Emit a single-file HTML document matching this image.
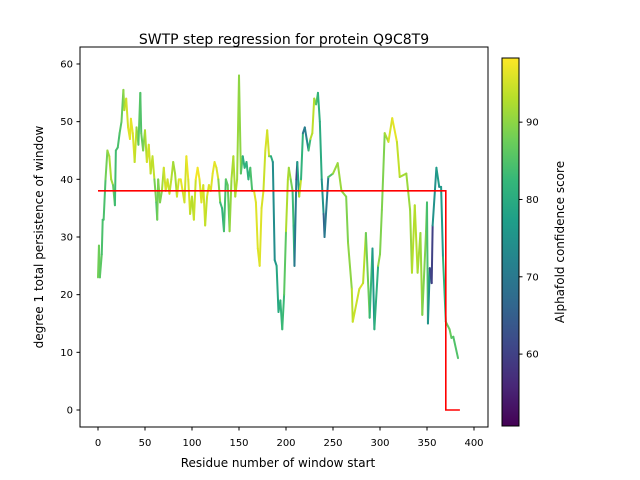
<!DOCTYPE html>
<html><head><meta charset="utf-8"><style>
body{margin:0;background:#fff}
svg{display:block;font-family:"DejaVu Sans","Liberation Sans",sans-serif}
</style></head><body>
<svg id="chart" width="640" height="480" viewBox="0 0 640 480" xmlns="http://www.w3.org/2000/svg">
<defs>
<linearGradient id="vir" x1="0" y1="1" x2="0" y2="0">
<stop offset="0" stop-color="#440154"/><stop offset="0.111" stop-color="#482878"/><stop offset="0.222" stop-color="#3e4989"/><stop offset="0.333" stop-color="#31688e"/><stop offset="0.444" stop-color="#26828e"/><stop offset="0.556" stop-color="#1f9e89"/><stop offset="0.667" stop-color="#35b779"/><stop offset="0.778" stop-color="#6ece58"/><stop offset="0.889" stop-color="#b5de2b"/><stop offset="1" stop-color="#fde725"/>
</linearGradient>
</defs>
<rect x="0" y="0" width="640" height="480" fill="#fff"/>
<text x="284" y="44" font-size="14" text-anchor="middle">SWTP step regression for protein Q9C8T9</text>
<g id="marks"></g>
<rect x="80" y="47" width="408" height="380" fill="none" stroke="#000" stroke-width="1"/>
<g id="axes"></g>
<text x="278" y="467" font-size="12" text-anchor="middle">Residue number of window start</text>
<text transform="translate(43,237) rotate(-90)" font-size="12" text-anchor="middle">degree 1 total persistence of window</text>
<rect x="502" y="58" width="17" height="368" fill="url(#vir)" stroke="#000" stroke-width="1"/>
<g id="cbar"></g>
<text transform="translate(564,242) rotate(-90)" font-size="12" text-anchor="middle">Alphafold confidence score</text>
</svg>
<script>
const residues=[0,1,2,4,5,6,8,10,12,14,16,18,19,21,23,25,27,28,30,32,34,35,37,39,41,43,45,46,48,50,52,54,56,58,60,62,63,64,66,68,70,72,74,76,78,80,82,84,86,88,90,92,94,96,98,100,102,104,106,108,110,112,114,116,118,120,122,124,126,128,130,132,134,136,138,140,142,144,146,148,150,152,154,156,158,160,162,164,166,168,170,172,174,176,178,180,182,184,186,188,190,192,194,196,198,200,202,203,205,207,208,209,211,212,214,216,218,220,222,224,226,228,230,232,234,236,238,
240,241,245,250,255,259,264,266,270,271,278,282,285,289,292,294,298,300,302,305,309,313,318,321,328,332,334,337,340,343,345,349,350,351,353,355,356,360,363,365,367,370,374,376,378,383];
const values=[23,28.5,23,27,33,33,40,45,44,40,39,35.5,45,45.5,48,50,55.5,52,54,49,47,50.5,48,43,49,46,55,48,45,48.5,43,46,41,44,40,36,33,40,36,38,42,38,40,37.5,40,43,41,37,40,40,38,36,44,40,34,37,33,40,42,40,36,39,32,37,39,38,41,43,42,40,36,35,31,40,39,31,40,44,37,40,58,41,44,42,43,40,42,38,38,36,28,25,35,38,45,48.5,44,44,43,26,25,17,19,14,20,31,40,42,40,38,32,25,40,43,37,40,48,49,47,45,47,48,54,53,55,50,40,
34,30,40.4,41,42.8,38,37,29,21,15.3,21,22,30.7,16,28,14,25,27,34.7,48,46.5,50.6,46.5,40.4,41,34.7,23.8,35.5,23.8,30.7,16.5,31,36,15,24.6,22,32,42,38.7,38.7,26.5,15.3,14,12.5,12.7,9];
const scores=[88,88,87,85,84,83,86,90,92,93,90,83,84,84,85,86,88,92,94,96,96,97,96,95,93,88,84,86,88,90,95,96,94,93,95,82,86,90,88,90,94,96,95,94,93,92,91,93,97,97,96,94,96,98,93,94,92,97,98,97,95,97,93,95,96,96,96,97,96,95,84,82,80,88,84,90,91,93,92,93,89,91,80,81,82,80,84,85,96,96,96,96,96,95,94,97,93,86,74,74,78,80,80,84,82,90,95,90,92,84,82,80,60,60,95,93,70,70,72,74,92,94,93,90,80,82,78,
72,60,80,90,92,90,90,88,92,94,95,96,90,85,80,72,90,90,88,90,94,97,96,92,92,90,92,94,92,92,90,88,88,80,70,52,68,82,72,75,78,85,88,86,86,84];
const stepX=[0,370,370,385];
const stepY=[38,38,0,0];
const xTicks=[0,50,100,150,200,250,300,350,400];
const yTicks=[0,10,20,30,40,50,60];
const cTicks=[60,70,80,90];
const NS='http://www.w3.org/2000/svg';
const CMIN=50.7,CMAX=98.3;
const xs=v=>98+v*0.94;
const ys=v=>410-v*5.767;
const cy=v=>426-(v-CMIN)*(368/(CMAX-CMIN));
const vir=['#440154','#482878','#3e4989','#31688e','#26828e','#1f9e89','#35b779','#6ece58','#b5de2b','#fde725'];
function hex(h){return [1,3,5].map(i=>parseInt(h.substr(i,2),16));}
function color(s){let t=Math.max(0,Math.min(1,(s-CMIN)/(CMAX-CMIN)))*(vir.length-1);let i=Math.min(vir.length-2,Math.floor(t));let f=t-i;let a=hex(vir[i]),b=hex(vir[i+1]);return 'rgb('+a.map((c,k)=>Math.round(c+(b[k]-c)*f)).join(',')+')';}
const marks=document.getElementById('marks');
const n=Math.min(residues.length,values.length,scores.length);
for(let i=0;i<n-1;i++){
 const l=document.createElementNS(NS,'line');
 
 
 l.setAttribute('x1',xs(residues[i]));l.setAttribute('y1',ys(values[i]));
 l.setAttribute('x2',xs(residues[i+1]));l.setAttribute('y2',ys(values[i+1]));
 l.setAttribute('stroke',color((scores[i]+scores[i+1])/2));
 l.setAttribute('stroke-width','2');l.setAttribute('stroke-linecap','round');
 marks.appendChild(l);
}
const step=document.createElementNS(NS,'polyline');


step.setAttribute('points',stepX.map((x,i)=>xs(x)+','+ys(stepY[i])).join(' '));
step.setAttribute('fill','none');step.setAttribute('stroke','#ff0000');step.setAttribute('stroke-width','1.6');
marks.appendChild(step);
const axes=document.getElementById('axes');
function mk(tag,attrs,txt){const e=document.createElementNS(NS,tag);for(const k in attrs)e.setAttribute(k,attrs[k]);if(txt!==undefined)e.textContent=txt;return e;}
xTicks.forEach(t=>{const x=xs(t);
 const tk=mk('line',{x1:x,x2:x,y1:427,y2:430.5,stroke:'#000'});
 
 
 axes.appendChild(tk);
 const lb=mk('text',{x:x,y:446,'font-size':'10','text-anchor':'middle'},String(t));
 
 
 axes.appendChild(lb);});
yTicks.forEach(t=>{const y=ys(t);
 const tk=mk('line',{x1:76.5,x2:80,y1:y,y2:y,stroke:'#000'});
 
 
 axes.appendChild(tk);
 const lb=mk('text',{x:73,y:y+3.5,'font-size':'10','text-anchor':'end'},String(t));
 
 
 axes.appendChild(lb);});
const cb=document.getElementById('cbar');
cTicks.forEach(t=>{const y=cy(t);
 const tk=mk('line',{x1:519,x2:522.5,y1:y,y2:y,stroke:'#000'});
 
 
 cb.appendChild(tk);
 const lb=mk('text',{x:526,y:y+3.5,'font-size':'10'},String(t));
 
 
 cb.appendChild(lb);});
</script>
</body></html>
